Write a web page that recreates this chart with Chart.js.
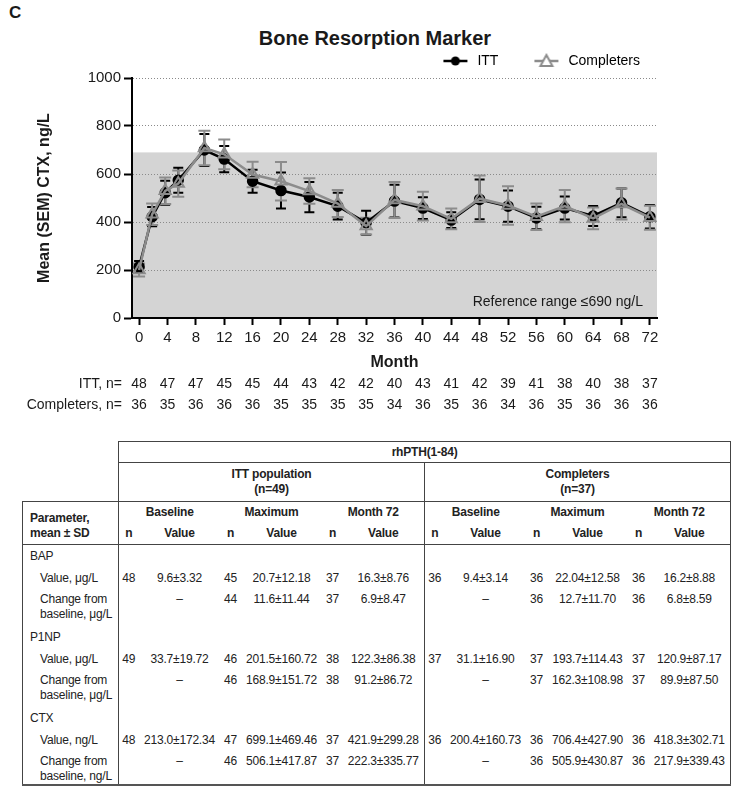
<!DOCTYPE html>
<html>
<head>
<meta charset="utf-8">
<script src="https://cdn.jsdelivr.net/npm/chart.js@4.4.1/dist/chart.umd.min.js"></script>
<style>
body{margin:0;background:#fff;font-family:Arial,"Liberation Sans",sans-serif;color:#1a1a1a;}
#wrap{position:relative;width:733px;height:789px;overflow:hidden;}
#panel{position:absolute;left:9px;top:3px;font-weight:bold;font-size:17px;}
#title{position:absolute;left:375px;top:26px;transform:translateX(-50%);font-weight:bold;font-size:20px;line-height:24px;white-space:nowrap;}
#chart{position:absolute;left:0;top:0;}
#tbl{position:absolute;left:22px;top:441px;border-collapse:collapse;table-layout:fixed;width:708px;
  font-family:Arial,"Liberation Sans",sans-serif;font-size:12px;letter-spacing:-0.2px;color:#222;}
#tbl td{padding:0;line-height:15px;text-align:center;white-space:nowrap;overflow:visible;}
#tbl .b{font-weight:bold;}
#tbl .bl{border-left:1px solid #444;}
#tbl .br{border-right:1px solid #444;}
#tbl .bt{border-top:1px solid #444;}
#tbl .bb{border-bottom:1px solid #444;}
#tbl .bb2{border-bottom:2px solid #555;}
#tbl .p0{text-align:left;padding-left:7px;}
#tbl .p1{text-align:left;padding-left:17px;}
</style>
</head>
<body>
<div id="wrap">
  <div id="panel">C</div>
  <div id="title">Bone Resorption Marker</div>
  <canvas id="chart" width="733" height="430"></canvas>
  <table id="tbl"></table>
</div>
<script>
// visit times in months (week 8, 16, 24, 40, then every 4 months)
const months = [0, 1.84, 3.68, 5.52, 9.2, 12, 16, 20, 24, 28, 32, 36, 40, 44, 48, 52, 56, 60, 64, 68, 72];
const ittMean = [213, 422, 522, 574, 700, 662, 570, 531, 504, 466, 397, 487, 458, 408, 494, 466, 417, 458, 425, 480, 422];
const ittSem  = [25, 40, 50, 52, 67, 55, 48, 75, 63, 56, 50, 68, 45, 33, 83, 65, 47, 48, 42, 60, 49];
const compMean = [200, 432, 530, 560, 708, 682, 598, 570, 529, 477, 383, 492, 466, 413, 497, 469, 422, 466, 415, 475, 418];
const compSem  = [27, 45, 55, 55, 72, 62, 53, 80, 53, 56, 35, 75, 60, 43, 97, 80, 55, 67, 45, 65, 50];

const monthTicks = [0, 4, 8, 12, 16, 20, 24, 28, 32, 36, 40, 44, 48, 52, 56, 60, 64, 68, 72];
const ittN  = [48, 47, 47, 45, 45, 44, 43, 42, 42, 40, 43, 41, 42, 39, 41, 38, 40, 38, 37];
const compN = [36, 35, 36, 36, 36, 35, 35, 35, 35, 34, 36, 35, 36, 34, 36, 35, 36, 36, 36];
const refLimit = 690;

// table
const tablePeriods = ['Baseline', 'Maximum', 'Month 72'];
const tableGroups = [['ITT population', '(n=49)'], ['Completers', '(n=37)']];
const tableRows = [
  {label: ['BAP']},
  {label: ['Value, μg/L'], cells: [['48','9.6±3.32'],['45','20.7±12.18'],['37','16.3±8.76'],['36','9.4±3.14'],['36','22.04±12.58'],['36','16.2±8.88']]},
  {label: ['Change from','baseline, μg/L'], cells: [['','–'],['44','11.6±11.44'],['37','6.9±8.47'],['','–'],['36','12.7±11.70'],['36','6.8±8.59']]},
  {label: ['P1NP']},
  {label: ['Value, μg/L'], cells: [['49','33.7±19.72'],['46','201.5±160.72'],['38','122.3±86.38'],['37','31.1±16.90'],['37','193.7±114.43'],['37','120.9±87.17']]},
  {label: ['Change from','baseline, μg/L'], cells: [['','–'],['46','168.9±151.72'],['38','91.2±86.72'],['','–'],['37','162.3±108.98'],['37','89.9±87.50']]},
  {label: ['CTX']},
  {label: ['Value, ng/L'], cells: [['48','213.0±172.34'],['47','699.1±469.46'],['37','421.9±299.28'],['36','200.4±160.73'],['36','706.4±427.90'],['36','418.3±302.71']]},
  {label: ['Change from','baseline, ng/L'], cells: [['','–'],['46','506.1±417.87'],['37','222.3±335.77'],['','–'],['36','505.9±430.87'],['36','217.9±339.43']]}
];

const fam = 'Arial, "Liberation Sans", sans-serif';
Chart.defaults.font.family = fam;
Chart.defaults.color = '#1a1a1a';

function legendMark(color, kind) {
  const c = document.createElement('canvas');
  c.width = 30; c.height = 16;
  const g = c.getContext('2d');
  g.strokeStyle = color; g.lineWidth = 2.5;
  g.beginPath(); g.moveTo(3, 8); g.lineTo(27, 8); g.stroke();
  if (kind == 'circle') {
    g.fillStyle = color;
    g.beginPath(); g.arc(15, 8, 4.5, 0, Math.PI * 2); g.fill();
  } else {
    g.fillStyle = '#fff'; g.lineWidth = 2;
    g.beginPath(); g.moveTo(15, 2); g.lineTo(21, 13); g.lineTo(9, 13); g.closePath();
    g.fill(); g.stroke();
  }
  return c;
}
const marks = [legendMark('#000', 'circle'), legendMark('#8c8c8c', 'triangle')];

const errBars = {
  id: 'errBars',
  beforeDatasetsDraw(chart) {
    const {ctx} = chart, y = chart.scales.y;
    const sets = [[ittMean, ittSem, '#000', 5], [compMean, compSem, '#8c8c8c', 6]];
    sets.forEach((s, di) => {
      const meta = chart.getDatasetMeta(di);
      ctx.save();
      ctx.strokeStyle = s[2]; ctx.lineWidth = 2;
      meta.data.forEach((pt, i) => {
        const top = y.getPixelForValue(s[0][i] + s[1][i]);
        const bot = y.getPixelForValue(s[0][i] - s[1][i]);
        ctx.beginPath();
        ctx.moveTo(pt.x, top); ctx.lineTo(pt.x, bot);
        ctx.moveTo(pt.x - s[3], top); ctx.lineTo(pt.x + s[3], top);
        ctx.moveTo(pt.x - s[3], bot); ctx.lineTo(pt.x + s[3], bot);
        ctx.stroke();
      });
      ctx.restore();
    });
  }
};

const refBand = {
  id: 'refBand',
  beforeDraw(chart) {
    const {ctx, chartArea} = chart, y = chart.scales.y;
    const top = y.getPixelForValue(refLimit), bot = y.getPixelForValue(0);
    ctx.save();
    ctx.fillStyle = '#d4d4d4';
    ctx.fillRect(chartArea.left, top, chartArea.right - chartArea.left, bot - top);
    ctx.fillStyle = '#1a1a1a';
    ctx.font = '14px ' + fam;
    ctx.textAlign = 'right'; ctx.textBaseline = 'middle';
    ctx.fillText('Reference range ≤690 ng/L', chartArea.right - 14, bot - 16);
    ctx.restore();
  }
};

const nRows = {
  id: 'nRows',
  afterDraw(chart) {
    const {ctx} = chart, x = chart.scales.x;
    ctx.save();
    ctx.fillStyle = '#1a1a1a';
    ctx.font = '14px ' + fam;
    ctx.textBaseline = 'middle';
    ctx.textAlign = 'right';
    ctx.fillText('ITT, n=', 122, 384);
    ctx.fillText('Completers, n=', 122, 405);
    ctx.textAlign = 'center';
    monthTicks.forEach((m, i) => {
      const px = x.getPixelForValue(m);
      ctx.fillText(ittN[i], px, 384);
      ctx.fillText(compN[i], px, 405);
    });
    ctx.restore();
  }
};

new Chart(document.getElementById('chart'), {
  type: 'line',
  data: {
    datasets: [
      {
        label: 'ITT',
        data: months.map((m, i) => ({x: m, y: ittMean[i]})),
        borderColor: '#000', borderWidth: 2.5,
        pointStyle: 'circle', pointRadius: 4.5,
        pointBackgroundColor: '#000', pointBorderColor: '#000',
        order: 2
      },
      {
        label: 'Completers',
        data: months.map((m, i) => ({x: m, y: compMean[i]})),
        borderColor: '#8c8c8c', borderWidth: 2.5,
        pointStyle: 'triangle', pointRadius: 6.5, pointBorderWidth: 2,
        pointBackgroundColor: 'rgba(0,0,0,0)', pointBorderColor: '#8c8c8c',
        order: 1
      }
    ]
  },
  options: {
    responsive: false,
    animation: false,
    layout: {padding: {left: 0, right: 60, top: 21, bottom: 0}},
    plugins: {
      tooltip: {enabled: false},
      title: {display: false},
      legend: {
        position: 'top', align: 'end',
        labels: {
          usePointStyle: true, pointStyleWidth: 30, padding: 33,
          font: {size: 14}, color: '#1a1a1a',
          generateLabels: (chart) => chart.data.datasets.map((ds, i) => ({
            text: ds.label, pointStyle: marks[i], lineWidth: 0,
            fillStyle: ds.borderColor, strokeStyle: ds.borderColor,
            hidden: false, datasetIndex: i
          }))
        }
      }
    },
    scales: {
      x: {
        type: 'linear', min: -1, max: 73,
        afterBuildTicks: (s) => { s.ticks = monthTicks.map(v => ({value: v})); },
        afterFit: (s) => { s.height = 112; },
        grid: {drawOnChartArea: false, drawTicks: true, tickLength: 7, tickColor: '#000', tickWidth: 2},
        border: {color: '#000', width: 2},
        ticks: {font: {size: 15}, padding: 4, maxRotation: 0, autoSkip: false, color: '#1a1a1a'},
        title: {display: true, text: 'Month', font: {size: 16, weight: 'bold'}, padding: {top: 0, bottom: 58}, color: '#1a1a1a'}
      },
      y: {
        min: 0, max: 1000,
        afterFit: (s) => { s.width = 132; },
        grid: {color: '#8a8a8a', lineWidth: 1, tickColor: '#000', tickWidth: 2, tickLength: 8, tickBorderDash: []},
        border: {color: '#000', width: 2, dash: [1, 2]},
        ticks: {stepSize: 200, font: {size: 15}, padding: 3, color: '#1a1a1a', callback: (v) => String(v)},
        title: {display: true, text: 'Mean (SEM) CTX, ng/L', font: {size: 16, weight: 'bold'}, padding: {top: 35, bottom: 0}, color: '#1a1a1a'}
      },
      yR: {
        position: 'right', display: true,
        afterFit: (s) => { s.width = 16; },
        grid: {display: false}, border: {display: false}, ticks: {display: false}
      }
    }
  },
  plugins: [refBand, errBars, nRows]
});

// table built from the arrays above
function buildTable() {
  let h = '<colgroup><col style="width:96px">';
  for (let i = 0; i < 6; i++) h += '<col style="width:20px"><col style="width:82px">';
  h += '</colgroup>';
  h += '<tr style="height:21px"><td></td><td colspan="12" class="b bt bl br bb">rhPTH(1-84)</td></tr>';
  h += '<tr style="height:39px"><td></td>' + tableGroups.map((g, i) =>
    '<td colspan="6" class="b bl bb' + (i == 1 ? ' br' : '') + '">' + g[0] + '<br>' + g[1] + '</td>').join('') + '</tr>';
  h += '<tr style="height:21px"><td rowspan="2" class="b bl bt bb p0" style="vertical-align:bottom;padding-bottom:3px">Parameter,<br>mean ± SD</td>';
  for (let i = 0; i < 6; i++) {
    h += '<td colspan="2" class="b' + (i % 3 == 0 ? ' bl' : '') + (i == 5 ? ' br' : '') + '">' + tablePeriods[i % 3] + '</td>';
  }
  h += '</tr><tr style="height:22px">';
  for (let i = 0; i < 6; i++) {
    h += '<td class="b bb' + (i % 3 == 0 ? ' bl' : '') + '">n</td><td class="b bb' + (i == 5 ? ' br' : '') + '">Value</td>';
  }
  h += '</tr>';
  tableRows.forEach((r, ri) => {
    const last = ri == tableRows.length - 1;
    const end = last ? ' bb2' : '';
    if (!r.cells) {
      h += '<tr style="height:23px"><td class="bl p0' + end + '">' + r.label[0] + '</td>' +
        '<td colspan="6" class="bl' + end + '"></td><td colspan="6" class="bl br' + end + '"></td></tr>';
      return;
    }
    const two = r.label.length > 1;
    const ht = two ? (last ? 31 : 36) : 22;
    const va = two ? 'vertical-align:top;padding-top:2px' : 'vertical-align:middle';
    h += '<tr style="height:' + ht + 'px"><td class="bl p1' + end + '" style="' + va + '">' + r.label.join('<br>') + '</td>';
    r.cells.forEach((c, i) => {
      h += '<td class="' + (i % 3 == 0 ? 'bl' : '') + end + '" style="' + va + '">' + c[0] + '</td>';
      h += '<td class="' + (i == 5 ? 'br' : '') + end + '" style="' + va + '">' + c[1] + '</td>';
    });
    h += '</tr>';
  });
  document.getElementById('tbl').innerHTML = h;
}
buildTable();
</script>
</body>
</html>
